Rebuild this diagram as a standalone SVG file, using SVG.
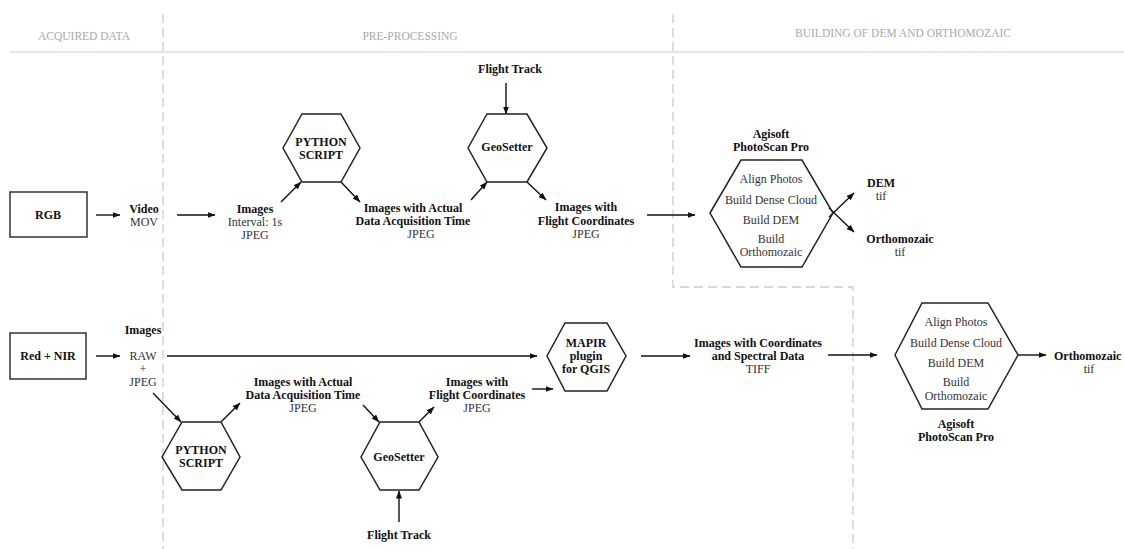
<svg xmlns="http://www.w3.org/2000/svg" width="1124" height="549" viewBox="0 0 1124 549">
<defs>
<marker id="ah" markerWidth="8" markerHeight="6" refX="7.5" refY="3" orient="auto" markerUnits="userSpaceOnUse">
<path d="M0,0 L8,3 L0,6 Z" fill="#111"/>
</marker>
<style>
text{font-family:"Liberation Serif","DejaVu Serif",serif;font-size:12px;fill:#333;text-anchor:middle}
.b{font-weight:bold;fill:#111}
.h{font-size:11.5px;fill:#aaa}
.hex{fill:none;stroke:#222;stroke-width:1.5}
.box{fill:none;stroke:#333;stroke-width:1.5}
.c{fill:none;stroke:#111;stroke-width:1.4;marker-end:url(#ah)}
.sep{fill:none;stroke:#ccc;stroke-width:1.3;stroke-dasharray:9,5}
</style>
</defs>
<rect width="1124" height="549" fill="#fff"/>
<g id="headers">
<line x1="10" y1="52" x2="1124" y2="52" stroke="#ddd" stroke-width="1.3"/>
<path class="sep" d="M163,14 V549"/>
<path class="sep" d="M673,14 V287 H853 V549"/>
<text class="h" x="84" y="40">ACQUIRED DATA</text>
<text class="h" x="410" y="40">PRE-PROCESSING</text>
<text class="h" x="903" y="37">BUILDING OF DEM AND ORTHOMOZAIC</text>
</g>
<g id="connectors">
<line class="c" x1="96" y1="215" x2="120" y2="215"/>
<line class="c" x1="177" y1="215" x2="215" y2="215"/>
<line class="c" x1="281" y1="202" x2="301" y2="182"/>
<line class="c" x1="341" y1="182" x2="360" y2="202"/>
<line class="c" x1="471" y1="200" x2="487" y2="182"/>
<line class="c" x1="506" y1="83" x2="506" y2="114"/>
<line class="c" x1="527" y1="182" x2="546" y2="200"/>
<line class="c" x1="647" y1="215" x2="695" y2="215"/>
<line class="c" x1="829" y1="217" x2="854" y2="193"/>
<line class="c" x1="829" y1="208" x2="854" y2="232"/>
<line class="c" x1="96" y1="356" x2="120" y2="356"/>
<line class="c" x1="167" y1="356" x2="537" y2="356"/>
<line class="c" x1="641" y1="356" x2="690" y2="356"/>
<line class="c" x1="828" y1="355" x2="877" y2="355"/>
<line class="c" x1="1018" y1="355" x2="1046" y2="355"/>
<line class="c" x1="153" y1="393" x2="181" y2="422"/>
<line class="c" x1="221" y1="422" x2="240" y2="403"/>
<line class="c" x1="363" y1="405" x2="379" y2="422"/>
<line class="c" x1="399" y1="522" x2="399" y2="491"/>
<line class="c" x1="419" y1="422" x2="434" y2="407"/>
<line class="c" x1="532" y1="389" x2="553" y2="389"/>
</g>
<g id="rgb">
<rect class="box" x="10" y="192" width="77" height="45"/>
<text class="b" x="48" y="219">RGB</text>
</g>
<g id="video">
<text class="b" x="144" y="213">Video</text>
<text x="144" y="226">MOV</text>
</g>
<g id="images1">
<text class="b" x="255" y="213">Images</text>
<text x="255" y="226">Interval: 1s</text>
<text x="255" y="239">JPEG</text>
</g>
<g id="python1">
<polygon class="hex" points="283,148 302,114 341,114 360,148 341,182 302,182"/>
<text class="b" x="321" y="146">PYTHON</text>
<text class="b" x="321" y="159">SCRIPT</text>
</g>
<g id="actual1">
<text class="b" x="413" y="212">Images with Actual</text>
<text class="b" x="413" y="225">Data Acquisition Time</text>
<text x="421" y="238">JPEG</text>
</g>
<g id="flighttrack1">
<text class="b" x="510" y="73">Flight Track</text>
</g>
<g id="geosetter1">
<polygon class="hex" points="468,148 487,114 527,114 547,148 527,182 487,182"/>
<text class="b" x="507" y="151">GeoSetter</text>
</g>
<g id="flightcoords1">
<text class="b" x="586" y="211">Images with</text>
<text class="b" x="586" y="225">Flight Coordinates</text>
<text x="586" y="238">JPEG</text>
</g>
<g id="agisoft1">
<text class="b" x="771" y="138">Agisoft</text>
<text class="b" x="771" y="151">PhotoScan Pro</text>
<polygon class="hex" points="710,213 741,160 802,160 833,213 802,267 741,267"/>
<text x="771" y="183">Align Photos</text>
<text x="771" y="204">Build Dense Cloud</text>
<text x="771" y="224">Build DEM</text>
<text x="771" y="243">Build</text>
<text x="771" y="256">Orthomozaic</text>
</g>
<g id="dem1">
<text class="b" x="881" y="187">DEM</text>
<text x="881" y="200">tif</text>
</g>
<g id="ortho1">
<text class="b" x="900" y="243">Orthomozaic</text>
<text x="900" y="256">tif</text>
</g>
<g id="rednir">
<rect class="box" x="10" y="333" width="76" height="46"/>
<text class="b" x="48" y="360">Red + NIR</text>
</g>
<g id="images2">
<text class="b" x="143" y="334">Images</text>
<text x="143" y="360">RAW</text>
<text x="143" y="373">+</text>
<text x="143" y="386">JPEG</text>
</g>
<g id="python2">
<polygon class="hex" points="162,457 182,422 221,422 240,457 221,490 182,490"/>
<text class="b" x="201" y="454">PYTHON</text>
<text class="b" x="201" y="467">SCRIPT</text>
</g>
<g id="actual2">
<text class="b" x="303" y="386">Images with Actual</text>
<text class="b" x="303" y="399">Data Acquisition Time</text>
<text x="303" y="412">JPEG</text>
</g>
<g id="geosetter2">
<polygon class="hex" points="361,457 380,422 419,422 438,457 419,490 380,490"/>
<text class="b" x="399" y="461">GeoSetter</text>
</g>
<g id="flighttrack2">
<text class="b" x="399" y="539">Flight Track</text>
</g>
<g id="flightcoords2">
<text class="b" x="477" y="386">Images with</text>
<text class="b" x="477" y="399">Flight Coordinates</text>
<text x="477" y="412">JPEG</text>
</g>
<g id="mapir">
<polygon class="hex" points="547,356 565,323 607,323 626,356 607,391 565,391"/>
<text class="b" x="586" y="347">MAPIR</text>
<text class="b" x="586" y="360">plugin</text>
<text class="b" x="586" y="373">for QGIS</text>
</g>
<g id="spectral">
<text class="b" x="758" y="347">Images with Coordinates</text>
<text class="b" x="758" y="360">and Spectral Data</text>
<text x="758" y="373">TIFF</text>
</g>
<g id="agisoft2">
<polygon class="hex" points="895,355 922,303 988,303 1018,355 988,409 922,409"/>
<text x="956" y="326">Align Photos</text>
<text x="956" y="347">Build Dense Cloud</text>
<text x="956" y="367">Build DEM</text>
<text x="956" y="386">Build</text>
<text x="956" y="400">Orthomozaic</text>
<text class="b" x="956" y="428">Agisoft</text>
<text class="b" x="956" y="441">PhotoScan Pro</text>
</g>
<g id="ortho2">
<text class="b" x="1054" y="360" style="text-anchor:start">Orthomozaic</text>
<text x="1089" y="373">tif</text>
</g>
</svg>
